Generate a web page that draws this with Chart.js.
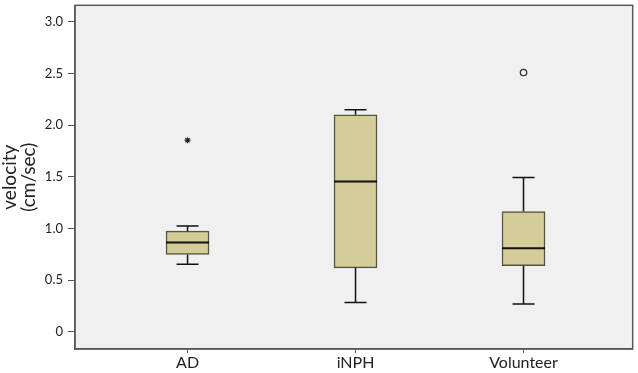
<!DOCTYPE html>
<html>
<head>
<meta charset="utf-8">
<script src="https://cdn.jsdelivr.net/npm/chart.js@4"></script>
<style>
  html, body { margin: 0; padding: 0; background: #fff; }
  #wrap { width: 638px; height: 373px; }
</style>
</head>
<body>
<div id="wrap"><canvas id="boxchart"></canvas></div>
<script>
const groups = ['AD', 'iNPH', 'Volunteer'];
const groupPos = [1, 2, 3];
const q1 = [0.75, 0.62, 0.64];
const median = [0.865, 1.455, 0.81];
const q3 = [0.975, 2.10, 1.165];
const whiskLow = [0.655, 0.285, 0.27];
const whiskHigh = [1.025, 2.15, 1.495];
const extremes = [{ x: 1, y: 1.855 }];   // star
const outliers = [{ x: 3, y: 2.51 }];    // circle
const yTicks = [0, 0.5, 1.0, 1.5, 2.0, 2.5, 3.0];

const boxData = groupPos.map((p, i) => ({ x: p, y: [q1[i], q3[i]] }));

const plotBg = {
  id: 'plotBg',
  beforeDraw(chart) {
    const { ctx, chartArea: a } = chart;
    ctx.save();
    ctx.fillStyle = '#f0f0f0';
    ctx.fillRect(a.left, a.top, a.right - a.left, a.bottom - a.top);
    ctx.restore();
  },
  afterDraw(chart) {
    const { ctx, chartArea: a } = chart;
    ctx.save();
    ctx.strokeStyle = '#5a5a5a';
    ctx.lineWidth = 1.5;
    ctx.strokeRect(a.left, a.top, a.right - a.left, a.bottom - a.top);
    ctx.restore();
  }
};

// whiskers and medians
const boxParts = {
  id: 'boxParts',
  afterDatasetsDraw(chart) {
    const { ctx } = chart;
    const xs = chart.scales.x, ys = chart.scales.y;
    ctx.save();
    ctx.strokeStyle = '#111';
    groupPos.forEach((p, i) => {
      const cx = xs.getPixelForValue(p);
      const yLo = ys.getPixelForValue(whiskLow[i]);
      const yHi = ys.getPixelForValue(whiskHigh[i]);
      const yQ1 = ys.getPixelForValue(q1[i]);
      const yQ3 = ys.getPixelForValue(q3[i]);
      const yMed = ys.getPixelForValue(median[i]);
      ctx.lineWidth = 1.5;
      ctx.beginPath();
      ctx.moveTo(cx, yQ3); ctx.lineTo(cx, yHi);
      ctx.moveTo(cx - 11, yHi); ctx.lineTo(cx + 11, yHi);
      ctx.moveTo(cx, yQ1); ctx.lineTo(cx, yLo);
      ctx.moveTo(cx - 11, yLo); ctx.lineTo(cx + 11, yLo);
      ctx.stroke();
      ctx.lineWidth = 2;
      ctx.beginPath();
      ctx.moveTo(cx - 21.5, yMed); ctx.lineTo(cx + 21.5, yMed);
      ctx.stroke();
    });
    ctx.restore();
  }
};

const font = 'Lato, "Open Sans", sans-serif';

new Chart(document.getElementById('boxchart'), {
  type: 'bar',
  data: {
    datasets: [
      {
        type: 'bar',
        data: boxData,
        backgroundColor: '#d4cd98',
        borderColor: '#55553d',
        borderWidth: 1.5,
        borderSkipped: false,
        barThickness: 43,
        order: 2
      },
      {
        type: 'scatter',
        data: extremes,
        pointStyle: 'star',
        radius: 3,
        borderColor: '#222',
        borderWidth: 1.2,
        order: 1
      },
      {
        type: 'scatter',
        data: outliers,
        pointStyle: 'circle',
        radius: 3.2,
        backgroundColor: 'rgba(0,0,0,0)',
        borderColor: '#333',
        borderWidth: 1.3,
        order: 1
      }
    ]
  },
  options: {
    responsive: true,
    maintainAspectRatio: false,
    animation: false,
    layout: { padding: { top: 3, right: 5, left: 0, bottom: 0 } },
    plugins: {
      legend: { display: false },
      tooltip: { enabled: false }
    },
    scales: {
      x: {
        type: 'linear',
        offset: false,
        min: 0.33,
        max: 3.65,
        afterBuildTicks: (s) => { s.ticks = groupPos.map(v => ({ value: v })); },
        afterFit: (s) => { s.height = 24; s.paddingLeft = 0; s.paddingRight = 0; },
        ticks: {
          callback: (v) => groups[groupPos.indexOf(v)],
          color: '#222',
          font: { family: font, size: 16 },
          padding: 0,
          maxRotation: 0
        },
        grid: { offset: false, drawOnChartArea: false, drawTicks: true, tickLength: 4, tickColor: '#555' },
        border: { display: true, color: '#5a5a5a', width: 1.5 }
      },
      y: {
        min: -0.165,
        max: 3.16,
        afterBuildTicks: (s) => { s.ticks = yTicks.map(v => ({ value: v })); },
        afterFit: (s) => { s.width = 75; s.paddingTop = 0; s.paddingBottom = 0; },
        ticks: {
          callback: (v) => v === 0 ? '0' : v.toFixed(1),
          color: '#222',
          font: { family: font, size: 13 },
          padding: 5
        },
        grid: { drawOnChartArea: false, drawTicks: true, tickLength: 7, tickColor: '#555' },
        border: { display: true, color: '#5a5a5a', width: 1.5 },
        title: {
          display: true,
          text: ['velocity', '(cm/sec)'],
          color: '#222',
          font: { family: font, size: 19, lineHeight: 1.0 },
          padding: { top: 0, bottom: 2 }
        }
      }
    }
  },
  plugins: [plotBg, boxParts]
});
</script>
</body>
</html>
